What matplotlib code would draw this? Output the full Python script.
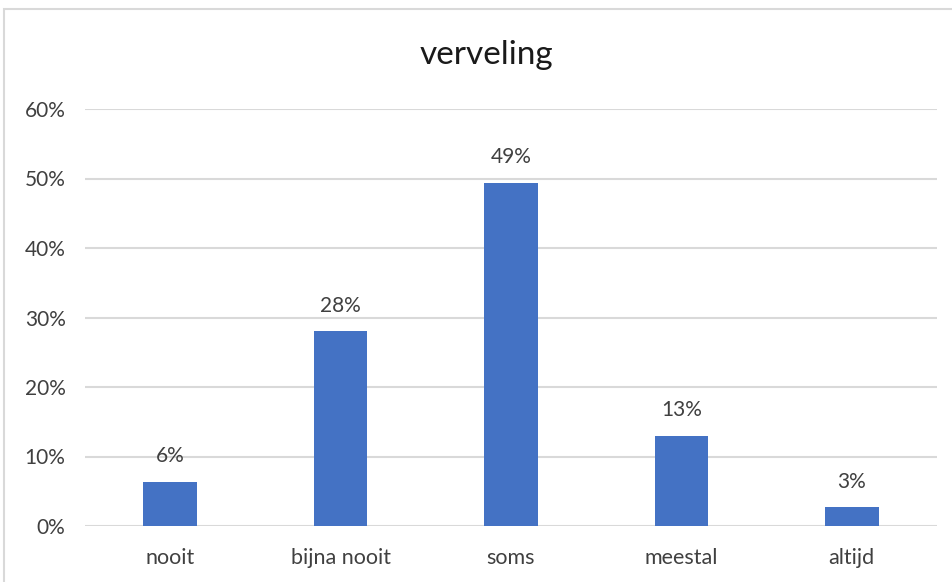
import matplotlib
matplotlib.use("Agg")
import matplotlib.pyplot as plt
from matplotlib.patches import Rectangle
from matplotlib.ticker import PercentFormatter

# data
categories = ["nooit", "bijna nooit", "soms", "meestal", "altijd"]
values = [0.064, 0.280, 0.494, 0.130, 0.027]
labels = ["6%", "28%", "49%", "13%", "3%"]

plt.rcParams["font.family"] = ["Lato", "DejaVu Sans"]

fig = plt.figure(figsize=(9.53, 5.82), dpi=100)
ax = fig.add_axes([85 / 953, 1 - 526 / 582, (937 - 85) / 953, (526 - 109) / 582])

x = range(len(categories))
bars = ax.bar(x, values, width=0.315, color="#4472C4", zorder=3)

for b, lab in zip(bars, labels):
    ax.annotate(lab, (b.get_x() + b.get_width() / 2, b.get_height()),
                xytext=(0, 11), textcoords="offset points",
                ha="center", va="bottom", fontsize=15, color="#404040")

ax.set_xlim(-0.5, 4.5)
ax.set_ylim(0, 0.6)
ax.set_yticks([0, 0.1, 0.2, 0.3, 0.4, 0.5, 0.6])
ax.yaxis.set_major_formatter(PercentFormatter(1.0, decimals=0))
ax.set_xticks(list(x))
ax.set_xticklabels(categories)
ax.tick_params(axis="both", length=0, labelsize=15, labelcolor="#404040")
ax.tick_params(axis="x", labelsize=15.5, pad=16)
ax.tick_params(axis="y", pad=14)

ax.grid(axis="y", color="#D9D9D9", linewidth=1.5, zorder=0)
for s in ax.spines.values():
    s.set_visible(False)

fig.text(0.51, 1 - 55 / 582, "verveling", ha="center", va="center",
         fontsize=24, color="#1a1a1a")

# chart-area border (only top and left are visible in the crop)
fig.patches.append(Rectangle((4 / 953, -0.1), 1.2, 1 - 9 / 582 + 0.1,
                             transform=fig.transFigure, fill=False,
                             edgecolor="#D9D9D9", linewidth=1.5))

fig.savefig("out.png", dpi=100)
